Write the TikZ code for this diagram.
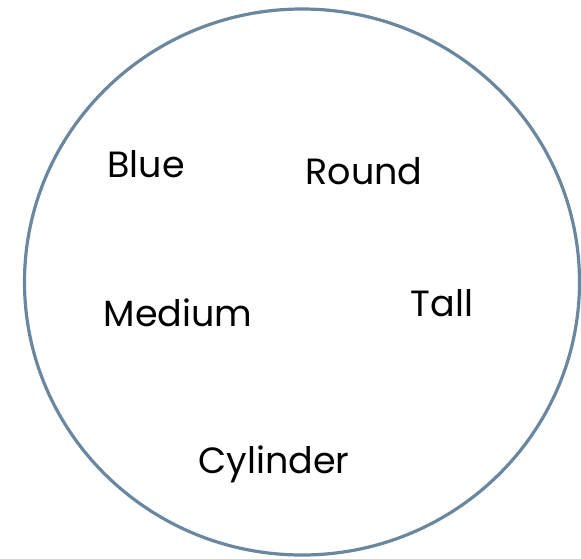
\documentclass[tikz,border=0pt]{standalone}
\usepackage{fontspec}
\setmainfont{Poppins}
\usepackage{xcolor}
\definecolor{setcolor}{HTML}{6A87A0}
\usepackage{tikz}
\usetikzlibrary{shapes.geometric}
\tikzset{
    % The set outline
    setbox/.style={ ellipse, draw=setcolor, line width=3.2pt, minimum width=555pt, minimum height=546pt, inner sep=0pt },
    % Members of the set
    member/.style={ anchor=base, inner sep=0pt, font=\fontsize{36.5}{42}\selectfont },
}

\begin{document}
\begin{tikzpicture}[x=1pt, y=-1pt]
    \useasboundingbox (0,0) rectangle (581,558);

    % Set
    \node[setbox] (set) at (302,282) {};

    % Members
    \node[member] (blue) at (146,177) {Blue};
    \node[member] (round) at (364,184) {Round};
    \node[member] (medium) at (178,326) {Medium};
    \node[member] (tall) at (442,316) {Tall};
    \node[member] (cylinder) at (274,473) {Cylinder};
\end{tikzpicture}
\end{document}
